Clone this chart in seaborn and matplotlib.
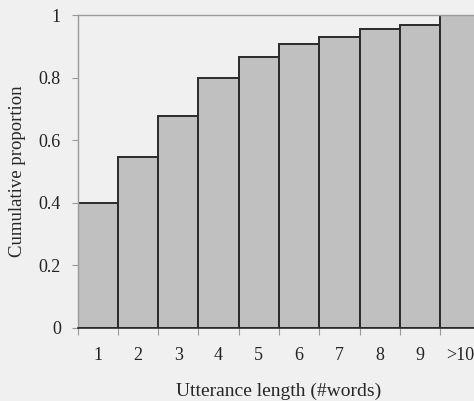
import matplotlib
matplotlib.use("Agg")
import matplotlib.pyplot as plt
import seaborn as sns
import pandas as pd
import numpy as np

categories = ["1", "2", "3", "4", "5", "6", "7", "8", "9", ">10"]
cumulative = [0.40, 0.545, 0.677, 0.80, 0.865, 0.906, 0.931, 0.956, 0.968, 1.0]
y_ticks = [0, 0.2, 0.4, 0.6, 0.8, 1]
y_tick_labels = ["0", "0.2", "0.4", "0.6", "0.8", "1"]

df = pd.DataFrame({"length": categories, "prop": cumulative})

sns.set_style("white")
plt.rcParams["font.family"] = ["Liberation Serif", "DejaVu Serif"]

bg = "#f0f0f0"
fig = plt.figure(figsize=(4.74, 4.01), dpi=100, facecolor=bg)
ax = fig.add_axes([77.5 / 474, (401 - 328) / 401, 403 / 474, 313 / 401])
ax.set_facecolor(bg)

sns.barplot(data=df, x="length", y="prop", order=categories, width=1.0,
            color="#c0c0c0", saturation=1, edgecolor="#2a2a2a", linewidth=1.4, ax=ax)

ax.set_xlim(-0.5, len(categories) - 0.5)
ax.set_ylim(0, 1)

# ticks at bar boundaries, labels at centers
n = len(categories)
ax.set_xticks(np.arange(n + 1) - 0.5)
ax.set_xticklabels([])
ax.set_xticks(np.arange(n), minor=True)
ax.set_xticklabels(categories, minor=True, fontsize=13)
ax.tick_params(axis="x", which="major", length=5, width=0.8, color="#999999", direction="out", bottom=True)
ax.tick_params(axis="x", which="minor", length=0, pad=14)

ax.set_yticks(y_ticks)
ax.set_yticklabels(y_tick_labels, fontsize=13)
ax.tick_params(axis="y", length=4, width=0.8, color="#999999", direction="out", left=True, pad=8)

for s in ["top", "left"]:
    ax.spines[s].set_visible(True)
    ax.spines[s].set_color("#9a9a9a")
    ax.spines[s].set_linewidth(1.0)
ax.spines["right"].set_visible(False)
ax.spines["bottom"].set_color("#2a2a2a")
ax.spines["bottom"].set_linewidth(1.2)

ax.set_xlabel("Utterance length (#words)", fontsize=14, labelpad=13)
ax.set_ylabel("Cumulative proportion", fontsize=13.5)
ax.yaxis.set_label_coords(-0.128, 0.5)
for t in ax.get_xticklabels(minor=True) + ax.get_yticklabels():
    t.set_color("#222222")

fig.savefig("out.png", dpi=100, facecolor=bg)
